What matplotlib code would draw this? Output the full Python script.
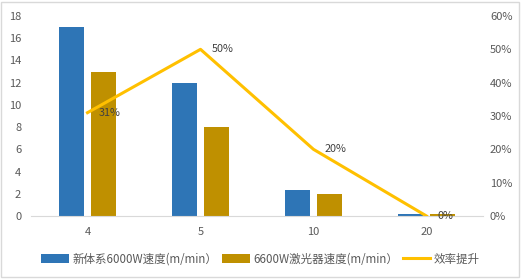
import numpy as np
import matplotlib.pyplot as plt
from matplotlib.patches import Rectangle
from matplotlib.ticker import PercentFormatter

plt.rcParams['font.family'] = ['Noto Sans CJK SC', 'DejaVu Sans']

# data
categories = ['4', '5', '10', '20']
speed_new = [17, 12, 2.3, 0.2]
speed_old = [13, 8, 2.0, 0.2]
gain = [31, 50, 20, 0]

c_blue = '#2E75B6'
c_gold = '#BF9000'
c_line = '#FFC000'
c_text = '#595959'

fig = plt.figure(figsize=(5.21, 2.79), dpi=100)
ax = fig.add_axes([31/521, 63/279, 452/521, 200/279])
ax2 = ax.twinx()

x = np.arange(len(categories))
w = 0.22
ax.bar(x - 0.14, speed_new, w, color=c_blue, label='新体系6000W速度(m/min）', zorder=2)
ax.bar(x + 0.14, speed_old, w, color=c_gold, label='6600W激光器速度(m/min）', zorder=2)
ax2.plot(x, gain, color=c_line, lw=2.2, label='效率提升', zorder=3)

# data labels for the line
for xi, g in zip(x, gain):
    ax2.annotate(f'{g}%', (xi, g), xytext=(8, 0), textcoords='offset points',
                 va='center', ha='left', fontsize=7.8, color='#404040')

ax.set_xlim(-0.5, 3.5)
ax.set_ylim(0, 18)
ax.set_yticks(range(0, 19, 2))
ax2.set_ylim(0, 60)
ax2.set_yticks(range(0, 61, 10))
ax2.yaxis.set_major_formatter(PercentFormatter(decimals=0))
ax.set_xticks(x)
ax.set_xticklabels(categories)

for a in (ax, ax2):
    for s in a.spines.values():
        s.set_visible(False)
    a.tick_params(length=0, labelsize=8, colors=c_text)
ax.spines['bottom'].set_visible(True)
ax.spines['bottom'].set_color('#D9D9D9')
ax.tick_params(axis='x', pad=8)
ax.tick_params(axis='y', pad=7)
ax2.tick_params(axis='y', pad=5)

h1, l1 = ax.get_legend_handles_labels()
h2, l2 = ax2.get_legend_handles_labels()
fig.legend(h1 + h2, l1 + l2, loc='center', bbox_to_anchor=(0.5, 20/279), ncol=3,
           frameon=False, fontsize=8.3, labelcolor=c_text, handlelength=2.4,
           handleheight=0.7, columnspacing=0.4, handletextpad=0.3)

# light border around the chart
fig.patches.append(Rectangle((0.002, 0.006), 0.994, 0.988, transform=fig.transFigure,
                             fill=False, edgecolor='#D9D9D9', lw=1))

plt.savefig('out.png', dpi=100)
